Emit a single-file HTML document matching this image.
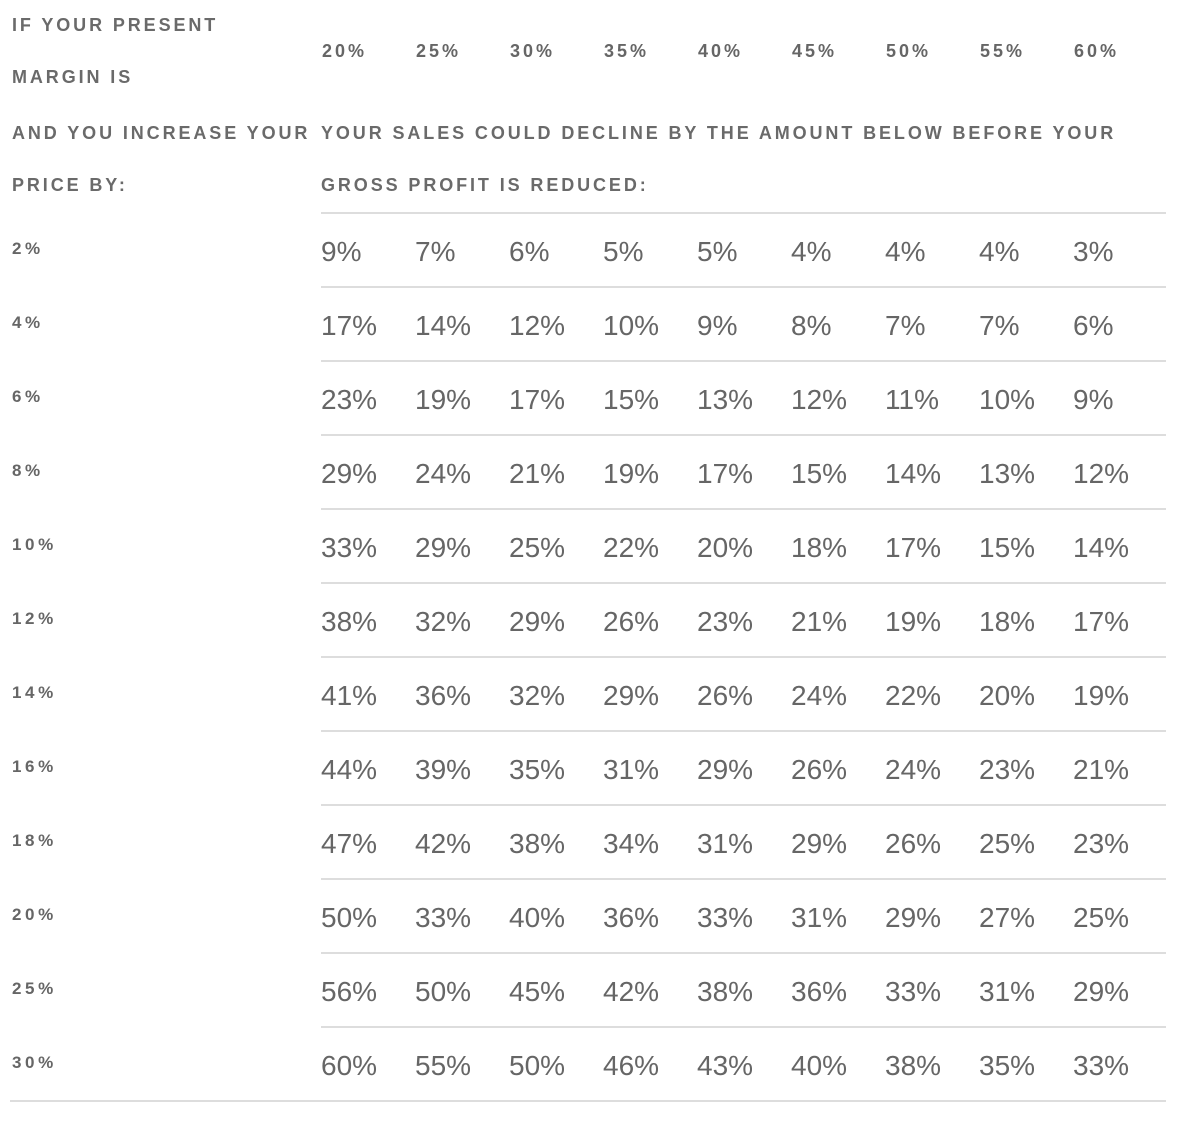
<!DOCTYPE html>
<html><head><meta charset="utf-8"><style>
html,body{margin:0;padding:0;background:#fff;width:1200px;height:1134px;overflow:hidden;position:relative;font-family:"Liberation Sans",sans-serif}
.h{position:absolute;font-size:18px;font-weight:bold;letter-spacing:2.9px;color:#6a6a6a;white-space:nowrap;line-height:20px}
.ch{position:absolute;font-size:18px;letter-spacing:3px;color:#666;line-height:20px;font-weight:bold}
.rl{position:absolute;font-size:17px;letter-spacing:3.6px;color:#666;line-height:20px;font-weight:bold;left:12px}
.v{position:absolute;font-size:28px;color:#666;line-height:32px;white-space:nowrap}
.ln{position:absolute;height:2px;background:#dddddd}
</style></head><body>
<div class="h" style="left:12px;top:15px">IF YOUR PRESENT</div>
<div class="h" style="left:12px;top:67px">MARGIN IS</div>
<div class="h" style="left:12px;top:123px">AND YOU INCREASE YOUR</div>
<div class="h" style="left:12px;top:175px">PRICE BY:</div>
<div class="h" style="left:321px;top:123px">YOUR SALES COULD DECLINE BY THE AMOUNT BELOW BEFORE YOUR</div>
<div class="h" style="left:321px;top:175px">GROSS PROFIT IS REDUCED:</div>
<div id="t"></div>
<script>
const margins=["20%","25%","30%","35%","40%","45%","50%","55%","60%"];
const increases=["2%","4%","6%","8%","10%","12%","14%","16%","18%","20%","25%","30%"];
const r2=[9,7,6,5,5,4,4,4,3];
const r4=[17,14,12,10,9,8,7,7,6];
const r6=[23,19,17,15,13,12,11,10,9];
const r8=[29,24,21,19,17,15,14,13,12];
const r10=[33,29,25,22,20,18,17,15,14];
const r12=[38,32,29,26,23,21,19,18,17];
const r14=[41,36,32,29,26,24,22,20,19];
const r16=[44,39,35,31,29,26,24,23,21];
const r18=[47,42,38,34,31,29,26,25,23];
const r20=[50,33,40,36,33,31,29,27,25];
const r25=[56,50,45,42,38,36,33,31,29];
const r30=[60,55,50,46,43,40,38,35,33];
const rows=[r2,r4,r6,r8,r10,r12,r14,r16,r18,r20,r25,r30];
const t=document.getElementById('t');
const colX=i=>321+i*94, rowY=j=>213+j*74;
margins.forEach((m,i)=>{const d=document.createElement('div');d.className='ch';d.textContent=m;d.style.left=(colX(i)+1)+'px';d.style.top='41px';


t.appendChild(d);});
for(let j=0;j<=increases.length;j++){const l=document.createElement('div');l.className='ln';l.style.top=(rowY(j)-1)+'px';
const last=j===increases.length;l.style.left=(last?10:321)+'px';l.style.width=(last?1156:845)+'px';


t.appendChild(l);}
increases.forEach((inc,j)=>{const y=rowY(j);const r=document.createElement('div');r.className='rl';r.textContent=inc;r.style.top=(y+26)+'px';


t.appendChild(r);
rows[j].forEach((v,i)=>{const c=document.createElement('div');c.className='v';c.textContent=v+'%';c.style.left=colX(i)+'px';c.style.top=(y+23)+'px';


t.appendChild(c);});});
</script>
</body></html>
